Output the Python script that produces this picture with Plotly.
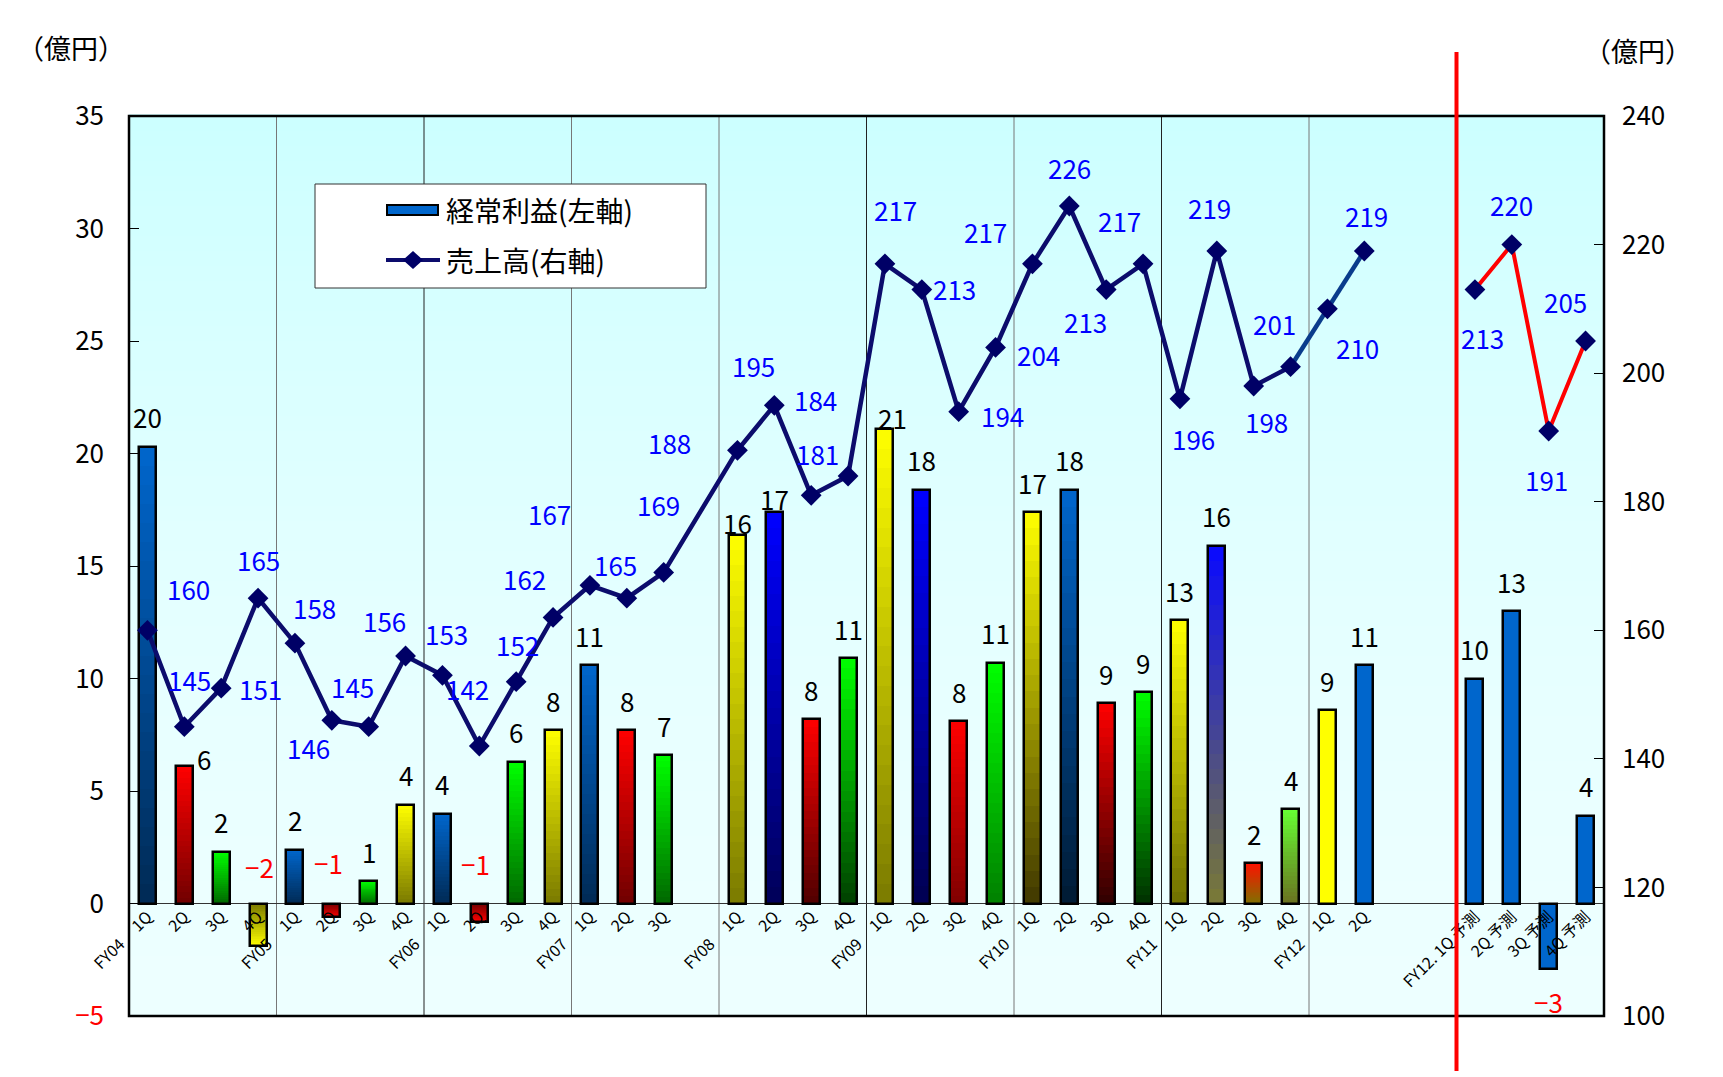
import plotly.graph_objects as go

FONT = "Noto Sans CJK JP"
NB = "\u00a0"

# ---- data ----
slots = list(range(40))
slot_labels = [
    f"FY04{NB * 5}1Q", "2Q", "3Q", "4Q",
    f"FY05{NB * 5}1Q", "2Q", "3Q", "4Q",
    f"FY06{NB * 5}1Q", "2Q", "3Q", "4Q",
    f"FY07{NB * 5}1Q", "2Q", "3Q", "",
    f"FY08{NB * 5}1Q", "2Q", "3Q", "4Q",
    f"FY09{NB * 5}1Q", "2Q", "3Q", "4Q",
    f"FY10{NB * 5}1Q", "2Q", "3Q", "4Q",
    f"FY11{NB * 5}1Q", "2Q", "3Q", "4Q",
    f"FY12{NB * 5}1Q", "2Q", "", "",
    f"FY12.{NB}1Q{NB}予測", f"2Q{NB}予測", f"3Q{NB}予測", f"4Q{NB}予測",
]
# 経常利益 (left axis, 億円)
profit = [
    20.3, 6.1, 2.3, -1.9,
    2.4, -0.6, 1.0, 4.4,
    4.0, -0.8, 6.3, 7.7,
    10.6, 7.7, 6.6, None,
    16.4, 17.4, 8.2, 10.9,
    21.1, 18.4, 8.1, 10.7,
    17.4, 18.4, 8.9, 9.4,
    12.6, 15.9, 1.8, 4.2,
    8.6, 10.6, None, None,
    10.0, 13.0, -2.9, 3.9,
]
# 売上高 (right axis, 億円) - actuals
sales = [
    160, 145, 151, 165,
    158, 146, 145, 156,
    153, 142, 152, 162,
    167, 165, 169, None,
    188, 195, 181, 184,
    217, 213, 194, 204,
    217, 226, 213, 217,
    196, 219, 198, 201,
    210, 219,
]
forecast_slots = [36, 37, 38, 39]
sales_forecast = [213, 220, 191, 205]
left_ticks = [-5, 0, 5, 10, 15, 20, 25, 30, 35]
right_ticks = [100, 120, 140, 160, 180, 200, 220, 240]

# ---- styles ----
BLUE = ("#0066CC", "#002A55")
RED = ("#FF0000", "#700000")
GREEN = ("#00FF00", "#006800")
YELLOW = ("#FFFF00", "#7A7A00")
bar_colors = [  # (tip colour, base colour)
    BLUE, RED, GREEN, YELLOW,
    BLUE, RED, GREEN, YELLOW,
    BLUE, RED, GREEN, YELLOW,
    BLUE, RED, GREEN, None,
    YELLOW, ("#0000FF", "#000058"), ("#FF0000", "#500000"), ("#00FF00", "#004000"),
    YELLOW, ("#0000FF", "#000050"), ("#FF0000", "#800000"), ("#00FF00", "#008000"),
    ("#FFFF00", "#403800"), ("#0066CC", "#001A33"), ("#FF0000", "#300000"), ("#00FF00", "#003000"),
    ("#FFFF00", "#707000"), ("#0A0AFF", "#7A7A35"), ("#FF1000", "#807000"), ("#66FF33", "#6A7020"),
    ("#FFFF00", "#FFFF00"), ("#0066CC", "#0066CC"), None, None,
    ("#0066CC", "#0066CC"), ("#0066CC", "#0066CC"), ("#0066CC", "#0066CC"), ("#0066CC", "#0066CC"),
]
bar_label_shift = {1: (20, -8), 3: (1, -80), 5: (-3, -55), 9: (-4, -58), 38: (0, 33),
                   16: (0, -12), 17: (0, -14), 20: (8, -11)}
sales_label_shift = {  # screen offsets (dx, dy down-positive), in shrunk-image px
    0: (37, -38), 1: (5, -43), 2: (36, 0), 3: (0, -35), 4: (18, -32), 5: (-21, 25),
    6: (-15, -37), 7: (-19, -32), 8: (4, -38), 9: (-11, -52), 10: (1, -34), 11: (-26, -35),
    12: (-37, -65), 13: (-10, -31), 14: (-5, -62), 16: (-62, -7), 17: (-19, -36),
    18: (6, -38), 19: (-30, -70), 20: (10, -49), 21: (30, -1), 22: (40, 3), 23: (39, 6),
    24: (-43, -29), 25: (0, -35), 26: (-19, 29), 27: (-21, -39), 28: (12, 36),
    29: (-7, -40), 30: (12, 32), 31: (-15, -39), 32: (27, 35), 33: (2, -32),
    36: (7, 44), 37: (0, -36), 38: (-2, 44), 39: (-18, -36),
}
SC = 1.1
N_SEG = 24
W, H = 1723, 1077
OFF = 8  # page body margin
ML, MT = 121, 108
PW, PH = 1475, 900
MR, MB = W - ML - PW, H - MT - PH


def px(x):  # screen x -> paper
    return (x - OFF - ML) / PW


def py(y):  # screen y -> paper
    return (MT + PH - (y - OFF)) / PH


def mix(c1, c2, t):
    a = [int(c1[i:i + 2], 16) for i in (1, 3, 5)]
    b = [int(c2[i:i + 2], 16) for i in (1, 3, 5)]
    return "#%02x%02x%02x" % tuple(round(a[j] + (b[j] - a[j]) * t) for j in range(3))


fig = go.Figure()

# gradient bars built from stacked slices (base colour -> tip colour)
for k in range(N_SEG):
    base, height, colors = [], [], []
    for v, c in zip(profit, bar_colors):
        if v is None:
            base.append(0)
            height.append(None)
            colors.append("rgba(0,0,0,0)")
        else:
            base.append(v * k / N_SEG)
            height.append(v * (N_SEG - k) / N_SEG)
            colors.append(mix(c[1], c[0], (k + 0.5) / N_SEG))
    fig.add_trace(go.Bar(x=slots, y=height, base=base, width=0.46,
                         marker=dict(color=colors, line_width=0),
                         showlegend=False, hoverinfo="skip"))

fig.add_trace(go.Bar(x=slots, y=profit, width=0.46, name="経常利益(左軸)",
                     marker=dict(color="rgba(0,0,0,0)", line=dict(color="black", width=2.5)),
                     showlegend=False))

# sales line
fig.add_trace(go.Scatter(x=slots[:32], y=sales[:32], yaxis="y2", mode="lines",
                         connectgaps=True, line=dict(color="#0C0C6C", width=4.5),
                         showlegend=False))
fig.add_trace(go.Scatter(x=slots[31:34], y=sales[31:34], yaxis="y2", mode="lines",
                         line=dict(color="#0A3C8C", width=4.5), showlegend=False))
fig.add_trace(go.Scatter(x=forecast_slots, y=sales_forecast, yaxis="y2", mode="lines",
                         line=dict(color="#FF0000", width=4), showlegend=False))
fig.add_trace(go.Scatter(x=slots[:len(sales)] + forecast_slots, y=sales + sales_forecast,
                         yaxis="y2", mode="markers", name="売上高(右軸)",
                         marker=dict(symbol="diamond", size=16, color="#000066"),
                         showlegend=False))

shapes = []
# plot area gradient
NB_BANDS = 60
for i in range(NB_BANDS):
    t = (i + 0.5) / NB_BANDS  # 0 bottom -> 1 top
    col = mix("#EDFFFF", "#CCFFFF", t ** 1.6)
    shapes.append(dict(type="rect", xref="paper", yref="paper", layer="below",
                       x0=0, x1=1, y0=i / NB_BANDS, y1=(i + 1) / NB_BANDS + 0.002,
                       fillcolor=col, line_width=0))
# fiscal-year separators
for b in range(4, 36, 4):
    dark = b in (8, 20, 28)
    shapes.append(dict(type="line", xref="x", yref="paper", x0=b - 0.5, x1=b - 0.5,
                       y0=0, y1=1, layer="below",
                       line=dict(color="#222222" if dark else "#777777", width=1)))
# plot frame
shapes.append(dict(type="rect", xref="paper", yref="paper", x0=0, x1=1, y0=0, y1=1,
                   line=dict(color="black", width=2.5)))
# forecast divider
shapes.append(dict(type="line", xref="x", yref="paper", x0=forecast_slots[0] - 0.5,
                   x1=forecast_slots[0] - 0.5, y0=py(1071), y1=py(52),
                   line=dict(color="#FF0000", width=4)))
# manual legend
shapes.append(dict(type="rect", xref="paper", yref="paper", x0=px(315), x1=px(706),
                   y0=py(288), y1=py(184), fillcolor="white",
                   line=dict(color="#333333", width=1)))
shapes.append(dict(type="rect", xref="paper", yref="paper", x0=px(387), x1=px(438),
                   y0=py(215), y1=py(205), fillcolor="#0066CC",
                   line=dict(color="black", width=2)))
shapes.append(dict(type="line", xref="paper", yref="paper", x0=px(386), x1=px(440),
                   y0=py(260), y1=py(260), line=dict(color="#0C0C6C", width=4)))
dcx, dcy = 413, 260
shapes.append(dict(type="path", xref="paper", yref="paper",
                   path=f"M {px(dcx - 10)},{py(dcy)} L {px(dcx)},{py(dcy - 9)} "
                        f"L {px(dcx + 10)},{py(dcy)} L {px(dcx)},{py(dcy + 9)} Z",
                   fillcolor="#000066", line_width=0))

annotations = []
for text, lx, ly in [("経常利益(左軸)", 444, 210), ("売上高(右軸)", 444, 260)]:
    annotations.append(dict(text=text, xref="paper", yref="paper", x=px(lx), y=py(ly),
                            xanchor="left", yanchor="middle", showarrow=False,
                            font=dict(size=28, color="black")))
for ux, uy in [(71, 48), (1638, 50)]:
    annotations.append(dict(text="（億円）", xref="paper", yref="paper", x=px(ux), y=py(uy),
                            xanchor="center", yanchor="middle", showarrow=False,
                            font=dict(size=27, color="black")))

# bar value labels
for s, v in zip(slots, profit):
    if v is None:
        continue
    r = round(v)
    txt = str(r) if r >= 0 else "−" + str(-r)
    dx, dy = bar_label_shift.get(s, (0, -30))
    annotations.append(dict(text=txt, x=s, y=v, xref="x", yref="y", showarrow=False,
                            xshift=dx, yshift=-dy, font=dict(size=26,
                            color="black" if r >= 0 else "#FF0000")))

# sales labels
for s, v in list(zip(slots, sales)) + list(zip(forecast_slots, sales_forecast)):
    if v is None:
        continue
    dx, dy = sales_label_shift[s]
    annotations.append(dict(text=str(v), x=s, y=v, xref="x", yref="y2", showarrow=False,
                            xshift=dx * SC, yshift=-dy * SC,
                            font=dict(size=26, color="#0000FF")))

left_text = [("<span style='color:#FF0000'>−5</span>" if t < 0 else str(t)) for t in left_ticks]

fig.update_layout(
    width=W, height=H,
    margin=dict(l=ML, r=MR, t=MT, b=MB, autoexpand=False),
    paper_bgcolor="white", plot_bgcolor="rgba(0,0,0,0)",
    barmode="overlay", showlegend=False, bargap=0,
    font=dict(family=FONT, size=26, color="black"),
    xaxis=dict(range=[-0.5, 39.5], tickmode="array", tickvals=slots, ticktext=slot_labels,
               tickangle=-45, anchor="free", position=5 / 40, showgrid=False,
               zeroline=False, showline=False, ticks="", automargin=False,
               tickfont=dict(size=16, color="black")),
    yaxis=dict(range=[-5, 35], tickmode="array", tickvals=left_ticks, ticktext=left_text,
               ticks="inside", ticklen=10, tickcolor="black", tickwidth=1,
               showgrid=False, zeroline=True, zerolinecolor="#333333", zerolinewidth=1,
               showline=False, automargin=False, ticklabelstandoff=24),
    yaxis2=dict(range=[100, 240], tickmode="array", tickvals=right_ticks,
                overlaying="y", side="right", ticks="inside", ticklen=10,
                tickcolor="black", showgrid=False, zeroline=False, showline=False,
                automargin=False, ticklabelstandoff=17),
    shapes=shapes,
    annotations=annotations,
)

fig.write_html("out.html")
